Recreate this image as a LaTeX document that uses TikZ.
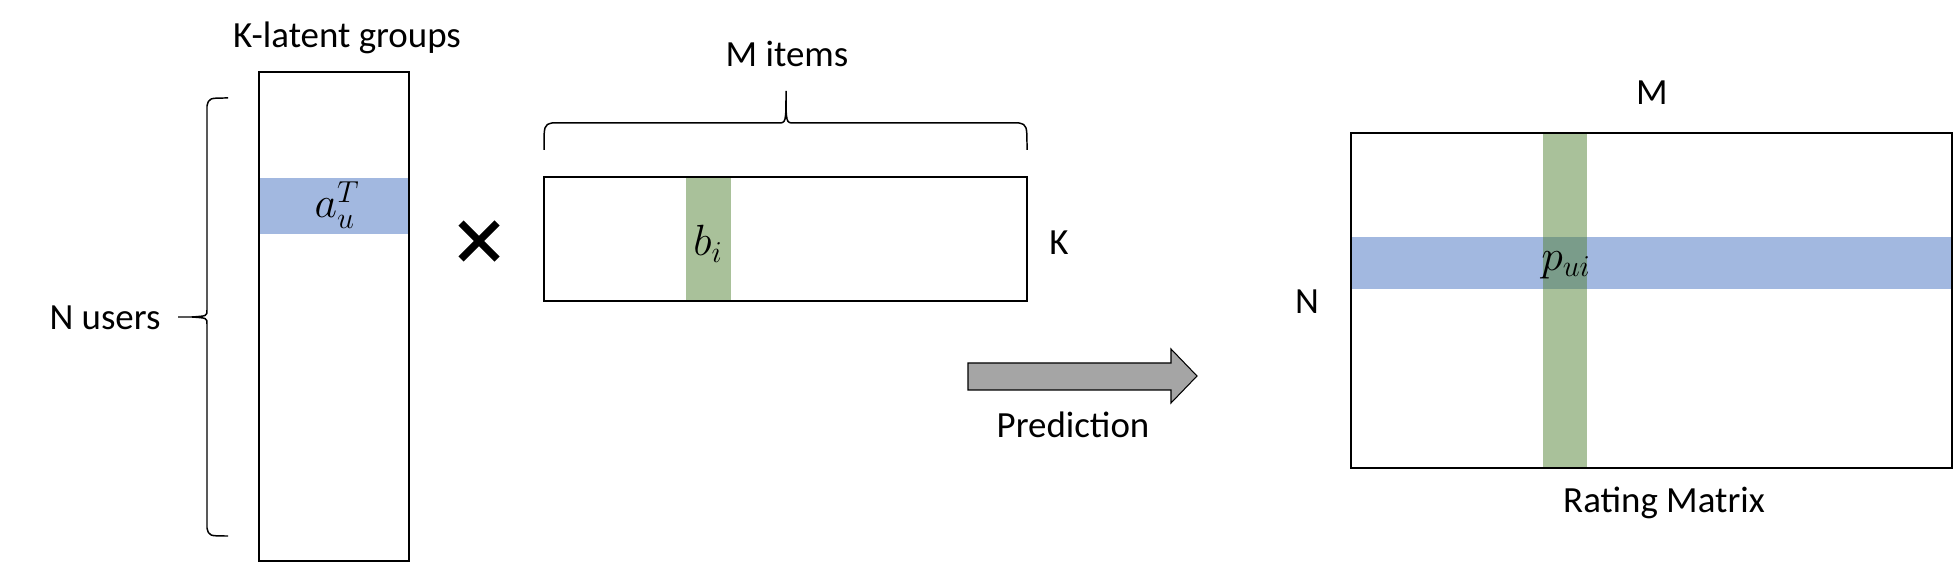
\documentclass[tikz,border=0pt]{standalone}
\usepackage{fontspec}
\setmainfont{Carlito}
\usetikzlibrary{calc}
\definecolor{userblue}{RGB}{162,184,224}
\definecolor{itemgreen}{RGB}{169,193,154}
\definecolor{bothgreen}{RGB}{122,156,138}
\definecolor{arrowgray}{RGB}{165,165,165}
\tikzset{
    matbox/.style={draw=black, line width=1.1pt},
    bracket/.style={draw=black, line width=0.85pt},
    lbl/.style={font=\fontsize{21}{25}\selectfont, inner sep=0pt},
    sym/.style={font=\fontsize{24}{28}\selectfont, inner sep=0pt}
}

\begin{document}
\begin{tikzpicture}[x=0.02cm, y=-0.02cm]
        \useasboundingbox (0,0) rectangle (1954,563);
        % User factor matrix
        \fill[userblue] (259,178) rectangle (409,234);
        \draw[matbox] (259,72) rectangle (409,561);
        \node[sym] (au) at (337,205) {$a_u^T$};
        \node[lbl] (kgroups) at (347,38) {K-latent groups};
        % Left brace
        \draw[bracket] (228,98) .. controls (209,98) .. (207,106) -- (207,310) .. controls (207,316) .. (192,317) -- (178,317)
            (192,317) .. controls (207,318) .. (207,324) -- (207,528) .. controls (209,536) .. (228,536);
        \node[lbl] (nusers) at (105,318) {N users};
        % Times sign
        \draw[line width=4.2pt] (461,223) -- (497,259) (461,259) -- (497,223);
        % Item factor matrix
        \fill[itemgreen] (686,177) rectangle (731,301);
        \draw[matbox] (544,177) rectangle (1027,301);
        \node[sym] (bi) at (708,244) {$b_i$};
        \node[lbl] (kdim) at (1059,243) {K};
        % Top brace
        \draw[bracket] (544,150) .. controls (544,125) .. (552,123) -- (778,123) .. controls (786,123) .. (786,91)
            .. controls (786,123) .. (794,123) -- (1019,123) .. controls (1027,125) .. (1027,150);
        \node[lbl] (mitems) at (787,54) {M items};
        % Prediction arrow
        \draw[fill=arrowgray, line width=0.6pt] (968,363) -- (1171,363) -- (1171,349) -- (1197,376) -- (1171,403) -- (1171,390) -- (968,390) -- cycle;
        \node[lbl] (pred) at (1073,425) {Prediction};
        % Rating matrix
        \fill[itemgreen] (1543,133) rectangle (1587,468);
        \fill[userblue] (1351,237) rectangle (1952,289);
        \fill[bothgreen] (1543,237) rectangle (1587,289);
        \draw[matbox] (1351,133) rectangle (1952,468);
        \node[sym] (pui) at (1566,265) {$p_{ui}$};
        \node[lbl] (mdim) at (1652,93) {M};
        \node[lbl] (ndim) at (1307,302) {N};
        \node[lbl] (rating) at (1664,503) {Rating Matrix};
    \end{tikzpicture}
\end{document}
